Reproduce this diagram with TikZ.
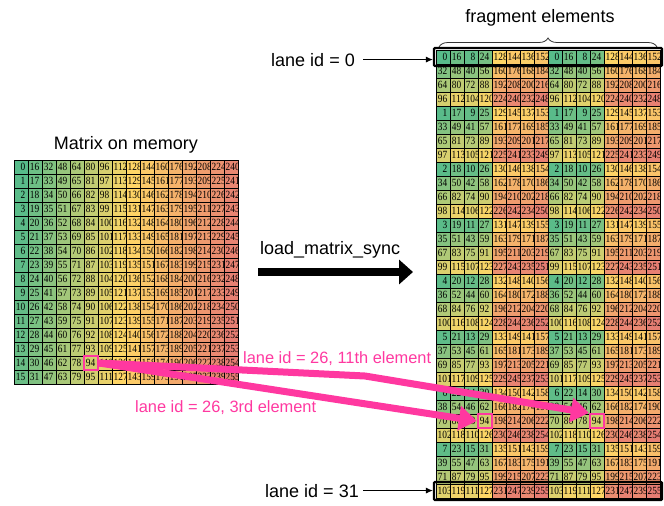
\documentclass[tikz,border=0pt]{standalone}
\usepackage{fontspec}
\setmainfont{Liberation Sans}
\newfontfamily\numfont[FakeStretch=0.85]{Liberation Serif}
\usepackage{tikz}
\usetikzlibrary{positioning,arrows.meta,fit,decorations.pathreplacing}
\definecolor{scgreen}{RGB}{87,187,138}
\definecolor{scyellow}{RGB}{255,214,102}
\definecolor{scred}{RGB}{230,124,115}
\definecolor{lanepink}{RGB}{255,56,160}
% colour scale green -> yellow -> red over 0..255
\newcommand{\setcellcolor}[1]{%
  \ifnum#1<128
    \pgfmathtruncatemacro\pct{round(#1*100/127.5)}%
    \colorlet{cellc}{scyellow!\pct!scgreen}%
  \else
    \pgfmathtruncatemacro\pct{round((#1-127.5)*100/127.5)}%
    \colorlet{cellc}{scred!\pct!scyellow}%
  \fi}
% number in a cell, cut at the cell border
\newcommand{\cellnum}[2]{%
  \begin{scope}
    \clip (#1.south west) rectangle (#1.north east);
    \ifnum#2<100
      \node[num, anchor=base east] at ([xshift=-2.5pt, yshift=-3.6pt]#1.east) {#2};
    \else
      \node[num, anchor=base west] at ([xshift=1.5pt, yshift=-3.6pt]#1.west) {#2};
    \fi
  \end{scope}}

\begin{document}
\begin{tikzpicture}[
  x=1pt, y=-1pt,
  cell/.style={draw=black, line width=0.8pt, minimum size=14pt, inner sep=0pt, outer sep=0pt},
  num/.style={font=\numfont\fontsize{11}{11}\selectfont, inner sep=0pt},
  lbl/.style={font=\fontsize{18}{20}\selectfont, inner sep=0pt},
  plbl/.style={font=\fontsize{16.4}{18}\selectfont, text=lanepink, inner sep=0pt},
  hl/.style={draw=lanepink, line width=2.2pt, inner sep=0pt},
  rowbox/.style={draw, line width=2.2pt, rounded corners=1pt, inner sep=2pt},
  brace/.style={decorate, decoration={brace, amplitude=9pt}, line width=0.8pt, black!80},
  lanearr/.style={-{Latex[length=7pt,width=6pt]}, line width=0.9pt},
  bigarr/.style={-{Triangle[length=14pt,width=24pt]}, line width=8pt},
  parr/.style={-{Triangle[length=18pt,width=24pt]}, line width=7pt, lanepink}
]
\useasboundingbox (0,0) rectangle (664,506);

% matrix on memory: value = row + 16*col
\foreach \r in {0,...,15}{
  \foreach \c in {0,...,15}{
    \pgfmathtruncatemacro\v{\r+16*\c}
    \setcellcolor{\v}
    \node[cell, fill=cellc] (m-\r-\c) at (21+14*\c, 167+14*\r) {};
    \cellnum{m-\r-\c}{\v}
  }
}

% fragment: lane per row, 8 elements repeated twice
\foreach \r in {0,...,31}{
  \foreach \c in {0,...,15}{
    \pgfmathtruncatemacro\k{mod(\c,8)}
    \pgfmathtruncatemacro\v{floor(\r/4)+32*mod(\r,4)+16*mod(\k,2)+8*mod(floor(\k/2),2)+128*floor(\k/4)}
    \setcellcolor{\v}
    \node[cell, fill=cellc] (f-\r-\c) at (443+14*\c, 57+14*\r) {};
    \cellnum{f-\r-\c}{\v}
  }
}

\node[lbl, anchor=base] (memlbl) at (126,149) {Matrix on memory};
\node[lbl, anchor=base] (fraglbl) at (540,23) {fragment elements};
\draw[brace] ([xshift=3pt, yshift=3pt]f-0-0.north west) -- ([xshift=-3pt, yshift=3pt]f-0-15.north east);

\node[rowbox, fit=(f-0-0)(f-0-15)] (row0) {};
\node[rowbox, fit=(f-31-0)(f-31-15)] (row31) {};
\node[lbl, anchor=base east] (lane0) at (355,66) {lane id = 0};
\node[lbl, anchor=base east] (lane31) at (359,497) {lane id = 31};
\draw[lanearr] ([xshift=8pt]lane0.east) -- (lane0.east -| row0.west);
\draw[lanearr] ([xshift=4pt]lane31.east) -- (lane31.east -| row31.west);

\node[lbl, anchor=base west] (op) at (260,254) {load\_matrix\_sync};
\coordinate (opL) at (258,272);
\coordinate (opR) at (413,272);
\draw[bigarr] (opL) -- (opR);

\node[hl, fit=(m-14-5)] (src) {};
\node[hl, fit=(f-26-3)] (dst3) {};
\node[hl, fit=(f-26-11)] (dst11) {};
\coordinate (bend) at (365,376);
\draw[parr] (src.east) -- (bend) -- (dst11.north west);
\draw[parr] (src.east) -- (dst3.west);
\node[plbl, anchor=base west] (lbl11) at (243,363) {lane id = 26, 11th element};
\node[plbl, anchor=base west] (lbl3) at (135,412) {lane id = 26, 3rd element};
\end{tikzpicture}
\end{document}
